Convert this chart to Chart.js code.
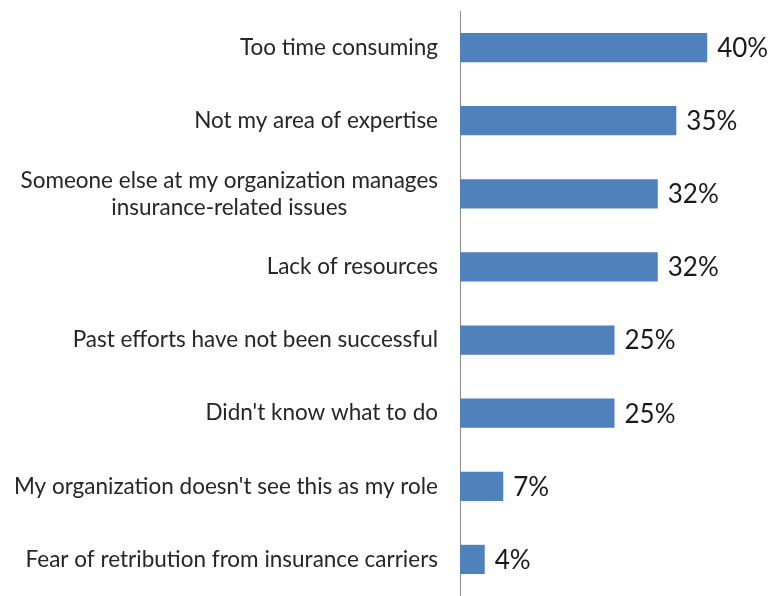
<!DOCTYPE html>
<html>
<head>
<meta charset="utf-8">
<script src="https://cdn.jsdelivr.net/npm/chart.js@4/dist/chart.umd.min.js"></script>
<style>
  html, body { margin: 0; padding: 0; background: #ffffff; }
  #wrap { width: 772px; height: 596px; position: relative; }
</style>
</head>
<body>
<div id="wrap"><canvas id="c" width="772" height="596"></canvas></div>
<script>
// Reasons for not getting involved (share of respondents, %)
const categories = [
  ["Too time consuming"],
  ["Not my area of expertise"],
  ["Someone else at my organization manages", "insurance-related issues"],
  ["Lack of resources"],
  ["Past efforts have not been successful"],
  ["Didn't know what to do"],
  ["My organization doesn't see this as my role"],
  ["Fear of retribution from insurance carriers"]
];
const values = [40, 35, 32, 32, 25, 25, 7, 4];
const valueLabels = ["40%", "35%", "32%", "32%", "25%", "25%", "7%", "4%"];

const LABEL_FONT = '22.5px Lato, "Open Sans", sans-serif';
const VALUE_FONT = '26px Lato, "Open Sans", sans-serif';
const AXIS_WIDTH = 460;

// Category labels: right-aligned block, wrapped lines centred within the block
const categoryLabels = {
  id: 'categoryLabels',
  afterDraw(chart) {
    const ctx = chart.ctx;
    const y = chart.scales.y;
    ctx.save();
    ctx.font = LABEL_FONT;
    ctx.fillStyle = '#262626';
    ctx.textBaseline = 'middle';
    ctx.textAlign = 'center';
    const right = y.right - 22;
    const lineH = 27;
    categories.forEach((lines, i) => {
      const cy = y.getPixelForValue(i);
      const w = Math.max(...lines.map(l => ctx.measureText(l).width));
      const cx = right - w / 2;
      const top = cy - (lines.length - 1) * lineH / 2;
      lines.forEach((l, k) => ctx.fillText(l, cx, top + k * lineH));
    });
    ctx.restore();
  }
};

// Percentage labels just past the end of each bar
const valueTags = {
  id: 'valueTags',
  afterDatasetsDraw(chart) {
    const ctx = chart.ctx;
    const meta = chart.getDatasetMeta(0);
    ctx.save();
    ctx.font = VALUE_FONT;
    ctx.fillStyle = '#1a1a1a';
    ctx.textBaseline = 'middle';
    ctx.textAlign = 'left';
    meta.data.forEach((bar, i) => {
      ctx.fillText(valueLabels[i], bar.x + 10, bar.y + 1);
    });
    ctx.restore();
  }
};

new Chart(document.getElementById('c'), {
  type: 'bar',
  data: {
    labels: categories,
    datasets: [{
      data: values,
      backgroundColor: '#4F81BD',
      borderWidth: 0,
      barPercentage: 0.5,
      categoryPercentage: 0.8
    }]
  },
  plugins: [categoryLabels, valueTags],
  options: {
    indexAxis: 'y',
    responsive: false,
    animation: false,
    layout: { padding: { top: 11, right: 3, bottom: -2, left: 0 } },
    plugins: { legend: { display: false }, tooltip: { enabled: false } },
    scales: {
      x: {
        display: false,
        min: 0,
        max: 50
      },
      y: {
        grid: { display: false, drawTicks: false },
        border: { display: true, color: '#8c8c8c', width: 1 },
        ticks: { display: false },
        afterFit(scale) { scale.width = AXIS_WIDTH; }
      }
    }
  }
});
</script>
</body>
</html>
